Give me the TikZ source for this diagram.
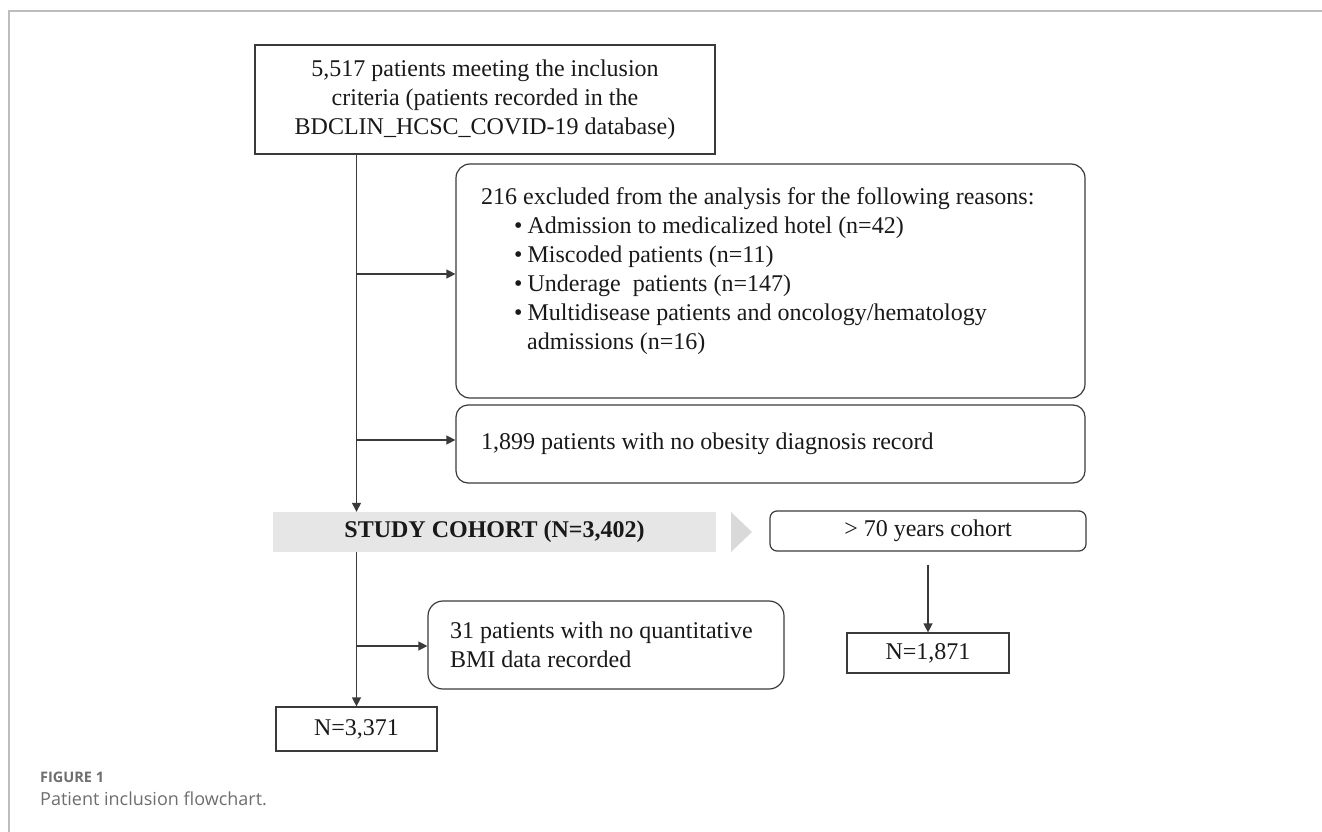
\documentclass[tikz,border=0pt]{standalone}
\usepackage{fontspec}
\setmainfont{Liberation Serif}
\newfontfamily\capfont{Open Sans}
\usepackage{tikz}
\usetikzlibrary{arrows.meta, positioning, calc}
\definecolor{linegray}{HTML}{3A3A3A}
\definecolor{bargray}{HTML}{E6E6E6}
\definecolor{tipgray}{HTML}{D9D9D9}
\definecolor{framegray}{HTML}{BDBDBD}
\definecolor{capgray}{HTML}{6E6E6E}
\newcommand{\bul}{\hspace*{33pt}\textbullet\hspace{5pt}}

\tikzset{
  box/.style={draw=linegray, line width=1.2pt, inner sep=0pt, align=center},
  rbox/.style={box, rounded corners=#1},
  arr/.style={draw=linegray, line width=1.3pt, -{Triangle[length=9pt, width=9pt]}}
}

\begin{document}
\begin{tikzpicture}[x=1pt, y=-1pt, every node/.style={font=\fontsize{24}{29}\selectfont, text=black!90}]
      \useasboundingbox (0,0) rectangle (1322,832);
      \draw [framegray, line width=1.5pt] (9,832) -- (9,11) -- (1322,11);

      % boxes
      \node [box, minimum width=460pt, minimum height=109pt] (top) at (485,99.5) {5,517 patients meeting the inclusion\\criteria (patients recorded in the\\BDCLIN\_HCSC\_COVID-19 database)};
      \node [rbox=14pt, minimum width=629pt, minimum height=234pt] (excl) at (770.5,281) {};
      \node [anchor=north west, align=left, inner sep=0pt] (excltxt) at (481,187) {216 excluded from the analysis for the following reasons:\\
        \bul Admission to medicalized hotel (n=42)\\
        \bul Miscoded patients (n=11)\\
        \bul Underage\ \ patients (n=147)\\
        \bul Multidisease patients and oncology/hematology\\
        \hspace*{46pt}admissions (n=16)};
      \node [rbox=12pt, align=flush left, inner xsep=25pt, text width=579pt, minimum height=78pt] (obes) at (770.5,444) {1,899 patients with no obesity diagnosis record};

      \node [fill=bargray, minimum width=443pt, minimum height=40pt, inner sep=0pt, font=\fontsize{24}{29}\selectfont\bfseries] (cohort) at (494.5,532) {STUDY COHORT (N=3,402)};
      \fill [tipgray] (731,512) -- (752,532) -- (731,552) -- cycle;
      \node [rbox=7pt, minimum width=316pt, minimum height=40pt] (old) at (928,531) {> 70 years cohort};
      \node [box, minimum width=162pt, minimum height=40pt] (n1871) at (928,653) {N=1,871};

      \node [rbox=15pt, align=flush left, inner xsep=22pt, text width=312pt, minimum height=88pt] (bmi) at (606,645) {31 patients with no quantitative\\BMI data recorded};
      \node [box, minimum width=161pt, minimum height=44pt] (n3371) at (356.5,729) {N=3,371};

      % connectors
      \coordinate (j1) at (356.5,274);
      \coordinate (j2) at (356.5,440);
      \coordinate (j3) at (356.5,646);
      \draw [arr] (top.south -| n3371.north) -- (cohort.north -| n3371.north);
      \draw [arr] (cohort.south -| n3371.north) -- (n3371.north);
      \draw [arr] (j1) -- (j1 -| excl.west);
      \draw [arr] (j2) -- (j2 -| obes.west);
      \draw [arr] (j3) -- (j3 -| bmi.west);
      \draw [arr, shorten <=13pt] (old) -- (n1871);

      % caption
      \node [anchor=base west, inner sep=0pt, font=\capfont\bfseries\fontsize{14.5}{17}\selectfont, text=capgray] (fig) at (40,782) {FIGURE 1};
      \node [anchor=base west, inner sep=0pt, font=\capfont\fontsize{18}{22}\selectfont, text=capgray] (cap) at (40,805) {Patient inclusion flowchart.};
    \end{tikzpicture}
\end{document}
